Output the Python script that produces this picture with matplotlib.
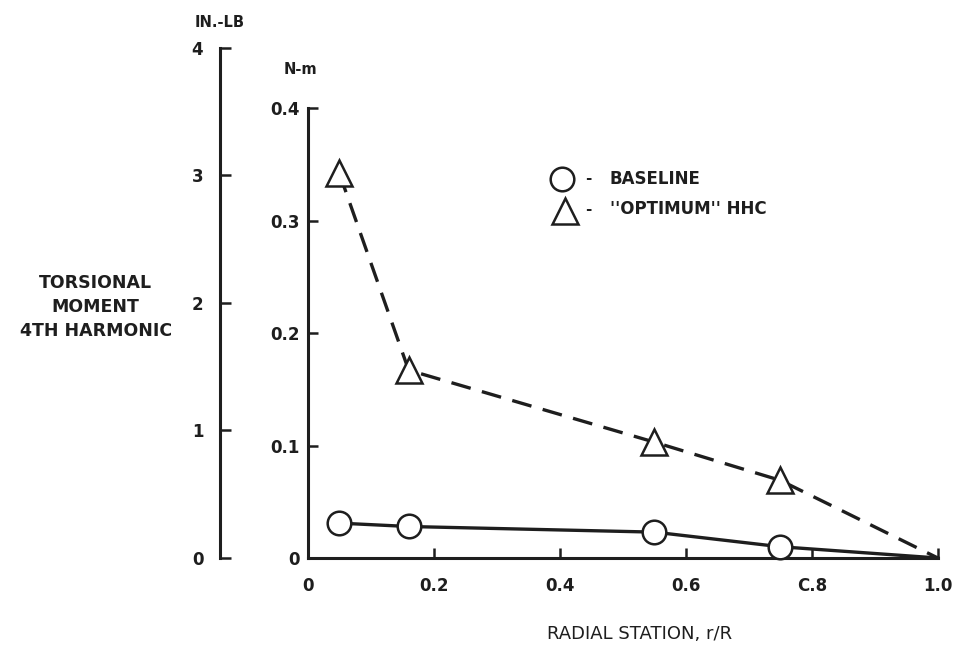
import matplotlib.pyplot as plt

# data
r_station = [0.05, 0.16, 0.55, 0.75, 1.0]
baseline = [0.031, 0.028, 0.023, 0.010, 0.0]
optimum_hhc = [0.342, 0.167, 0.103, 0.069, 0.0]

nm_ticks = [0, 0.1, 0.2, 0.3, 0.4]
nm_labels = ['0', '0.1', '0.2', '0.3', '0.4']
x_ticks = [0, 0.2, 0.4, 0.6, 0.8, 1.0]
x_labels = ['0', '0.2', '0.4', '0.6', 'C.8', '1.0']
inlb_ticks = [0, 1, 2, 3, 4]
inlb_labels = ['0', '1', '2', '3', '4']

plt.rcParams['font.family'] = ['DejaVu Sans']
plt.rcParams['font.weight'] = 'bold'
ink = '#1e1e1e'

fig = plt.figure(figsize=(9.56, 6.54), dpi=100)

# main axes (N-m)
ax = fig.add_axes([0.322, 0.1468, 0.659, 0.688])
ax.set_xlim(0, 1.0)
ax.set_ylim(0, 0.4)
for s in ['top', 'right']:
    ax.spines[s].set_visible(False)
for s in ['left', 'bottom']:
    ax.spines[s].set_linewidth(2.2)
    ax.spines[s].set_color(ink)
ax.set_xticks(x_ticks)
ax.set_xticklabels(x_labels)
ax.set_yticks(nm_ticks)
ax.set_yticklabels(nm_labels)
ax.tick_params(direction='in', length=7, width=1.8, colors=ink, labelsize=12, pad=6)
ax.tick_params(axis='x', pad=14)

ax.plot(r_station, optimum_hhc, ls=(0, (6, 3.5)), lw=2.4, color=ink,
        marker='^', ms=19, mfc='white', mec=ink, mew=1.8, clip_on=False, zorder=3,
        markevery=[0, 1, 2, 3])
ax.plot(r_station, baseline, ls='-', lw=2.4, color=ink,
        marker='o', ms=17, mfc='white', mec=ink, mew=1.8, clip_on=False, zorder=3,
        markevery=[0, 1, 2, 3])

ax.text(-0.012, 1.075, 'N-m', transform=ax.transAxes, fontsize=10.5, ha='center', color=ink)
ax.set_xlabel('RADIAL STATION, r/R', fontsize=13, color=ink)
ax.xaxis.set_label_coords(0.527, -0.150)

# legend
ax.plot([0.403], [0.843], transform=ax.transAxes, marker='o', ms=17, mfc='white',
        mec=ink, mew=1.8, clip_on=False)
ax.text(0.440, 0.843, '-', transform=ax.transAxes, fontsize=11, va='center', color=ink)
ax.text(0.479, 0.843, 'BASELINE', transform=ax.transAxes, fontsize=12,
        va='center', color=ink)
ax.plot([0.408], [0.772], transform=ax.transAxes, marker='^', ms=19, mfc='white',
        mec=ink, mew=1.8, clip_on=False)
ax.text(0.440, 0.775, '-', transform=ax.transAxes, fontsize=11, va='center', color=ink)
ax.text(0.479, 0.775, "''OPTIMUM'' HHC", transform=ax.transAxes, fontsize=12,
        va='center', color=ink)

# secondary scale (IN.-LB)
ax2 = fig.add_axes([0.2301, 0.1468, 0.01, 0.78])
ax2.patch.set_visible(False)
ax2.set_ylim(0, 4)
ax2.set_xticks([])
for s in ['top', 'right', 'bottom']:
    ax2.spines[s].set_visible(False)
ax2.spines['left'].set_linewidth(2.2)
ax2.spines['left'].set_color(ink)
ax2.set_yticks(inlb_ticks)
ax2.set_yticklabels(inlb_labels)
ax2.tick_params(axis='y', direction='in', length=8, width=1.8, colors=ink, labelsize=12, pad=12)
ax2.text(0.0, 1.04, 'IN.-LB', transform=ax2.transAxes, fontsize=10.5, ha='center', color=ink)

fig.text(0.100, 0.531, 'TORSIONAL\nMOMENT\n4TH HARMONIC', fontsize=12.5, ha='center',
         va='center', linespacing=1.42, color=ink)

fig.savefig('out.png', dpi=100)
